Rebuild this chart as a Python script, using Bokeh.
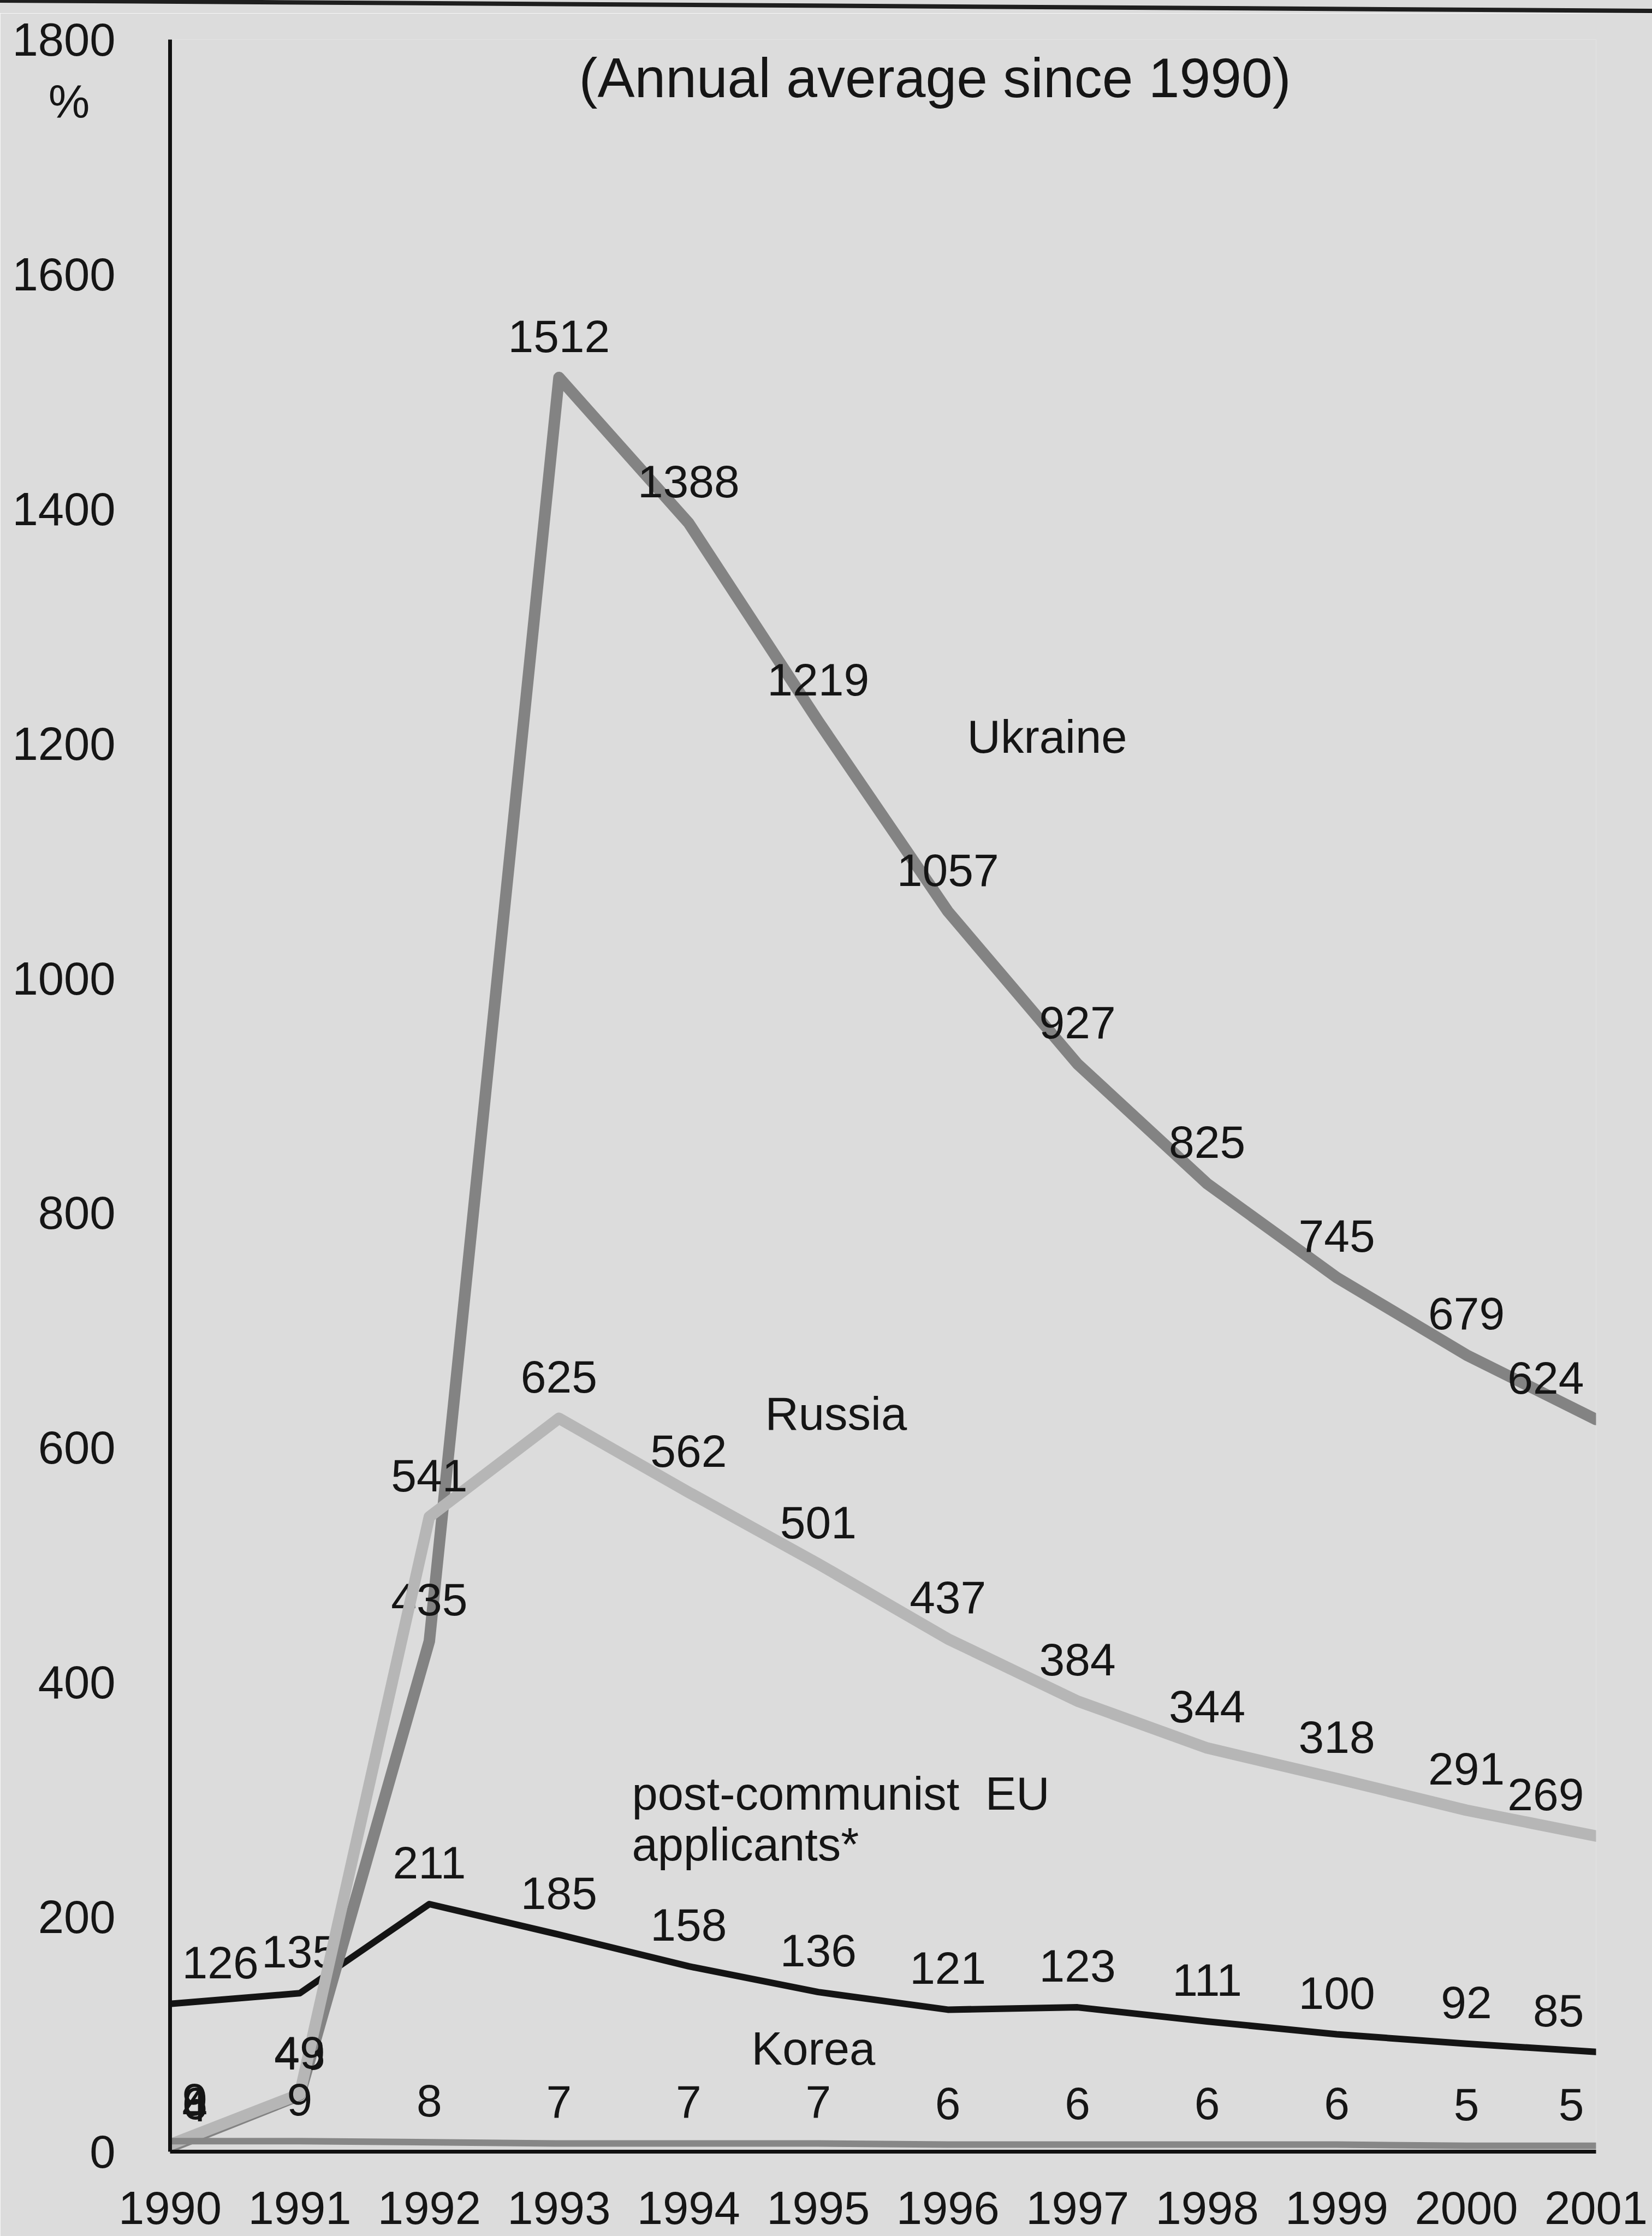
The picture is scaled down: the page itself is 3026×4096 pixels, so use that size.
from bokeh.plotting import figure
from bokeh.models import Range1d, FixedTicker, Label, Div, ColumnDataSource
from bokeh.layouts import column
from bokeh.embed import file_html
from bokeh.resources import INLINE
from bokeh.core.properties import value

# ---- data: inflation, annual average since 1990 (%) ----
years = ["1990", "1991", "1992", "1993", "1994", "1995",
         "1996", "1997", "1998", "1999", "2000", "2001"]
ukraine = [4, 48, 435, 1512, 1388, 1219, 1057, 927, 825, 745, 679, 624]
russia = [6, 49, 541, 625, 562, 501, 437, 384, 344, 318, 291, 269]
eu_applicants = [126, 135, 211, 185, 158, 136, 121, 123, 111, 100, 92, 85]
korea = [9, 9, 8, 7, 7, 7, 6, 6, 6, 6, 5, 5]
y_ticks = [0, 200, 400, 600, 800, 1000, 1200, 1400, 1600, 1800]
unit_label = "%"

# ---- page geometry ----
W, H = 3026, 4096
BAR_H = 24
LEFT, RIGHT, TOP, BOTTOM = 311, 103, 48, 155
FRAME_W = W - LEFT - RIGHT
PX_PER_X = FRAME_W / (len(years) - 1)

BG = "#dcdcdc"
INK = "#151515"
FONT = "Liberation Sans"
LABEL_FS = 84
LABEL_RISE = 76      # data labels sit above their points (px)
LABEL_INSET = 22     # labels are kept inside the plot area
UNIT_Y = 1747        # the "%" sign sits just under the top tick label

p = figure(width=W, height=H - BAR_H, output_backend="svg", toolbar_location=None,
           x_range=Range1d(0, len(years) - 1), y_range=Range1d(0, 1800),
           min_border_left=LEFT, min_border_right=RIGHT,
           min_border_top=TOP, min_border_bottom=BOTTOM,
           background_fill_color=BG, border_fill_color=BG)
p.outline_line_color = None
p.xgrid.grid_line_color = None
p.ygrid.grid_line_color = None

for ax in (p.xaxis[0], p.yaxis[0]):
    ax.axis_line_color = "#111111"
    ax.axis_line_width = 7
    ax.major_tick_line_color = None
    ax.minor_tick_line_color = None
    ax.major_tick_out = 0
    ax.major_tick_in = 0
    ax.major_label_text_font = FONT
    ax.major_label_text_font_size = "85px"
    ax.major_label_text_color = INK

p.xaxis.ticker = FixedTicker(ticks=list(range(len(years))))
p.xaxis.major_label_overrides = {i: y for i, y in enumerate(years)}
p.xaxis.major_label_text_line_height = 0.8
p.xaxis.major_label_standoff = 73

# the unit sign is set as an extra label on the value axis; the trailing
# no-break spaces move it in under the middle of "1800"
p.yaxis.ticker = FixedTicker(ticks=y_ticks + [UNIT_Y])
p.yaxis.major_label_overrides = {UNIT_Y: unit_label + "\u00a0\u00a0"}
p.yaxis.major_label_standoff = 100


def label_offsets(texts):
    """Shift end labels sideways so they stay inside the plot area."""
    offs = []
    last = len(texts) - 1
    for i, s in enumerate(texts):
        half = len(s) * 0.556 * LABEL_FS / 2
        room_left = i * PX_PER_X - LABEL_INSET - half
        room_right = (last - i) * PX_PER_X - LABEL_INSET - half
        dx = 0.0
        if room_left < 0:
            dx = -room_left
        elif room_right < 0:
            dx = room_right
        offs.append(dx)
    return offs


series = [
    (eu_applicants, "#141414", 12),
    (ukraine, "#838383", 21),
    (russia, "#b6b6b6", 21),
    (korea, "#878787", 12),
]

xs = list(range(len(years)))
for vals, color, lw in series:
    p.line(xs, vals, line_color=color, line_width=lw,
           line_join="round", line_cap="round")
    texts = [str(v) for v in vals]
    src = ColumnDataSource(dict(x=xs, y=vals, t=texts, dx=label_offsets(texts)))
    p.text(x="x", y="y", text="t", source=src, x_offset="dx", y_offset=-LABEL_RISE,
           text_font=value(FONT), text_font_size=f"{LABEL_FS}px",
           text_align="center", text_baseline="middle", text_color=INK)

# ---- annotations (positioned by the middle of the text) ----
def note(x, y, text, size=85, align="left"):
    p.add_layout(Label(x=x, y=y, text=text, text_font=FONT,
                       text_font_size=f"{size}px", text_align=align,
                       text_baseline="middle", text_color=INK))

note(3.154, 1767, "(Annual average since 1990)", size=102)
note(6.149, 1206, "Ukraine")
note(4.590, 629, "Russia")
note(3.563, 305, "post-communist\u00a0 EU")
note(3.563, 262, "applicants*")
note(4.485, 88, "Korea")

rule = Div(text=(f'<svg width="{W}" height="{BAR_H}" style="display:block">'
                 f'<rect width="{W}" height="{BAR_H}" fill="{BG}"/>'
                 f'<line x1="0" y1="1" x2="{W}" y2="20" stroke="#1e1e1e" stroke-width="8"/>'
                 '</svg>'),
           width=W, height=BAR_H,
           styles={"margin": "0", "padding": "0", "background-color": BG})

page = column(rule, p, spacing=0)
open("out.html", "w").write(file_html(page, INLINE))
